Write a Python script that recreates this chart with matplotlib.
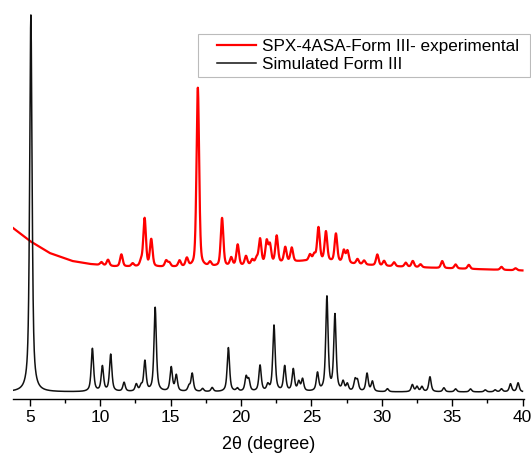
import numpy as np
import matplotlib.pyplot as plt
from matplotlib.lines import Line2D
from matplotlib.legend_handler import HandlerLine2D

plt.rcParams['font.family'] = ['Liberation Sans', 'DejaVu Sans']

# simulated pattern: peak positions (2theta) and heights
sim_pos = [5.07, 9.44, 10.15, 10.74, 11.69, 12.56, 12.9, 13.17, 13.9, 15.04, 15.4, 16.3, 16.53,
           17.27, 17.95, 19.1, 19.74, 20.36, 20.55, 21.35, 21.9, 22.34, 23.1, 23.71, 24.1,
           24.37, 25.43, 26.1, 26.67, 27.25, 27.55, 28.1, 28.27, 28.95, 29.33, 30.4, 32.17,
           32.5, 32.85, 33.42, 34.41, 35.24, 36.3, 37.35, 38.05, 38.5, 39.14, 39.68]
sim_int = [377, 43, 25, 37, 9, 7, 5, 30, 84, 24, 16, 5, 18,
           3, 4, 44, 3, 14, 11, 26, 6, 66, 25, 22, 9,
           12, 18, 94, 76, 9, 7, 11, 10, 18, 10, 3, 7,
           5, 5, 15, 4, 3, 3, 2, 2, 3, 8, 9]

# experimental pattern: background level and peaks above it
exp_bg_x = [3.8, 5.0, 6.4, 8.0, 9.25, 11.0, 14.0, 17.0, 20.0, 22.0, 24.5, 26.0, 28.0, 30.0, 34.0, 40.0]
exp_bg_y = [164, 151, 139, 131, 128, 125.5, 125, 125, 126, 128, 131, 131, 128, 126, 124, 121.5]
exp_pos = [10.08, 10.55, 11.5, 12.3, 12.9, 13.15, 13.62, 14.68, 14.9, 15.63, 16.15, 16.93,
           17.8, 18.65, 19.3, 19.76, 20.35, 20.8, 21.1, 21.35, 21.82, 22.05, 22.53, 23.14,
           23.6, 24.9, 25.2, 25.5, 26.03, 26.74, 27.3, 27.56, 28.27, 28.74, 29.68, 30.16,
           30.87, 31.7, 32.2, 32.75, 34.29, 35.24, 36.18, 38.5, 39.5]
exp_int = [3, 6, 12, 3, 5, 48, 27, 6, 4, 6, 8, 179,
           4, 48, 8, 21, 9, 5, 6, 25, 22, 18, 27, 15,
           14, 6, 6, 33, 29, 28, 12, 12, 5, 4, 11, 5,
           4, 4, 6, 3, 7, 4, 4, 3, 2]


def profile(x, pos, amp, fwhm, eta=0.5):
    y = np.zeros_like(x)
    for p, a in zip(pos, amp):
        d = (x - p) / (fwhm / 2)
        y += a * (eta / (1 + d ** 2) + (1 - eta) * np.exp(-np.log(2) * d ** 2))
    return y


x = np.arange(3.8, 40.0, 0.01)
y_sim = profile(x, sim_pos, sim_int, 0.2, 0.7)
y_exp = np.interp(x, exp_bg_x, exp_bg_y) + profile(x, exp_pos, exp_int, 0.22, 0.4)

fig = plt.figure(figsize=(5.31, 4.54), dpi=100)
ax = fig.add_axes([13 / 531, 55 / 454, 511 / 531, 399 / 454])
ax.plot(x, y_exp, color='#ff0000', lw=1.6, label='SPX-4ASA-Form III- experimental')
ax.plot(x, y_sim, color='#111111', lw=1.1, label='Simulated Form III')

ax.set_xlim(3.8, 40.1)
ax.set_ylim(-7, 392)
for s in ['left', 'right', 'top']:
    ax.spines[s].set_visible(False)
ax.spines['bottom'].set_linewidth(1.0)
ax.set_yticks([])
ax.set_xticks(range(5, 41, 5))
ax.set_xticks(np.arange(7.5, 40, 5), minor=True)
ax.tick_params(axis='x', which='major', direction='out', length=5, width=1, labelsize=12.5, pad=3)
ax.tick_params(axis='x', which='minor', direction='out', length=3, width=1)
ax.set_xlabel('2\u03b8 (degree)', fontsize=13, labelpad=8)

leg = ax.legend(loc='upper left', bbox_to_anchor=(198 / 531, 1 - 79 / 454, 332 / 531, 45 / 454),
                mode='expand', bbox_transform=fig.transFigure, fontsize=12.3, frameon=True,
                fancybox=False, edgecolor='#aaaaaa', handlelength=3.08, handletextpad=0.34,
                borderpad=0.3, labelspacing=0.15, borderaxespad=0,
                handler_map={Line2D: HandlerLine2D(xpad=0.8)})
leg.get_frame().set_linewidth(0.8)

fig.savefig('out.png', dpi=100)
